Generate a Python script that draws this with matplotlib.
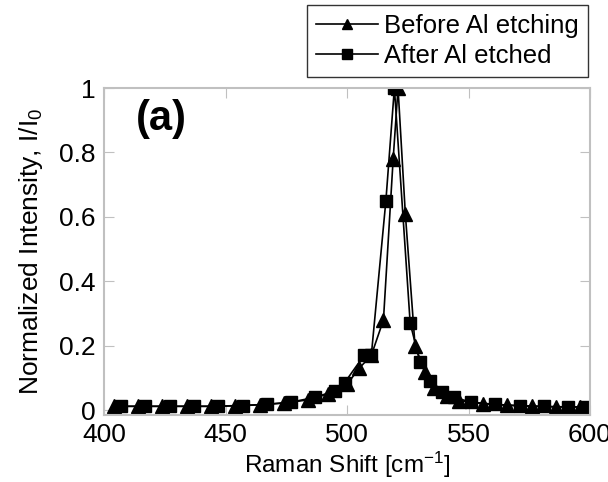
import matplotlib
matplotlib.use("Agg")
import matplotlib.pyplot as plt

plt.rcParams['font.family'] = ['Liberation Sans', 'DejaVu Sans']
plt.rcParams['mathtext.default'] = 'regular'

# Before Al etching (triangles)
before_x = [404, 414, 424, 434, 444, 454, 464, 474, 484, 492, 500, 505, 510, 515, 519, 521, 524, 528, 532, 536, 541, 546, 556, 566, 576, 586, 596]
before_y = [0.012, 0.012, 0.012, 0.012, 0.012, 0.014, 0.017, 0.022, 0.032, 0.05, 0.08, 0.13, 0.17, 0.28, 0.78, 1.0, 0.61, 0.2, 0.12, 0.07, 0.045, 0.03, 0.02, 0.015, 0.012, 0.01, 0.01]

# After Al etched (squares)
after_x = [407, 417, 427, 437, 447, 457, 467, 477, 487, 495, 499, 507, 510, 516, 519.5, 526, 530, 534, 539, 544, 551, 561, 571, 581, 591, 598]
after_y = [0.012, 0.012, 0.012, 0.012, 0.012, 0.014, 0.018, 0.025, 0.04, 0.06, 0.085, 0.17, 0.17, 0.65, 1.0, 0.27, 0.15, 0.09, 0.055, 0.04, 0.025, 0.018, 0.014, 0.012, 0.01, 0.01]

xticks = [400, 450, 500, 550, 600]
yticks = [0, 0.2, 0.4, 0.6, 0.8, 1]
ytick_labels = ['0', '0.2', '0.4', '0.6', '0.8', '1']

fig = plt.figure(figsize=(6.08, 4.82), dpi=100)
ax = fig.add_axes([104/608, 1-415/482, 486/608, 327/482])

l1, = ax.plot(before_x, before_y, color='black', lw=1.2, marker='^', ms=10,
              label='Before Al etching')
l2, = ax.plot(after_x, after_y, color='black', lw=1.2, marker='s', ms=9,
              label='After Al etched')

ax.set_xlim(400, 600)
ax.set_ylim(-0.015, 1)
ax.set_xticks(xticks)
ax.set_yticks(yticks)
ax.set_yticklabels(ytick_labels)
ax.tick_params(axis='both', direction='in', length=7, color='#c0c0c0',
               labelsize=19, top=True, right=True, pad=6)
for s in ax.spines.values():
    s.set_color('#c0c0c0')
    s.set_linewidth(1.5)

ax.set_xlabel('Raman Shift [cm$^{-1}$]', fontsize=17.5, labelpad=2)
ax.set_ylabel('Normalized Intensity, I/I$_0$', fontsize=19, labelpad=10)

ax.text(0.065, 0.965, '(a)', transform=ax.transAxes, fontsize=30,
        fontweight='bold', va='top', ha='left')

leg = fig.legend(handles=[l1, l2], loc='upper right',
                 bbox_to_anchor=(588/608, 1-5/482), fontsize=18.5,
                 frameon=True, fancybox=False, handlelength=2.4,
                 handletextpad=0.25, borderpad=0.35, labelspacing=0.25,
                 borderaxespad=0)
leg.get_frame().set_edgecolor('black')
leg.get_frame().set_linewidth(1.0)
for h in leg.legend_handles:
    h.set_markersize(7)

fig.savefig('out.png', dpi=100)
